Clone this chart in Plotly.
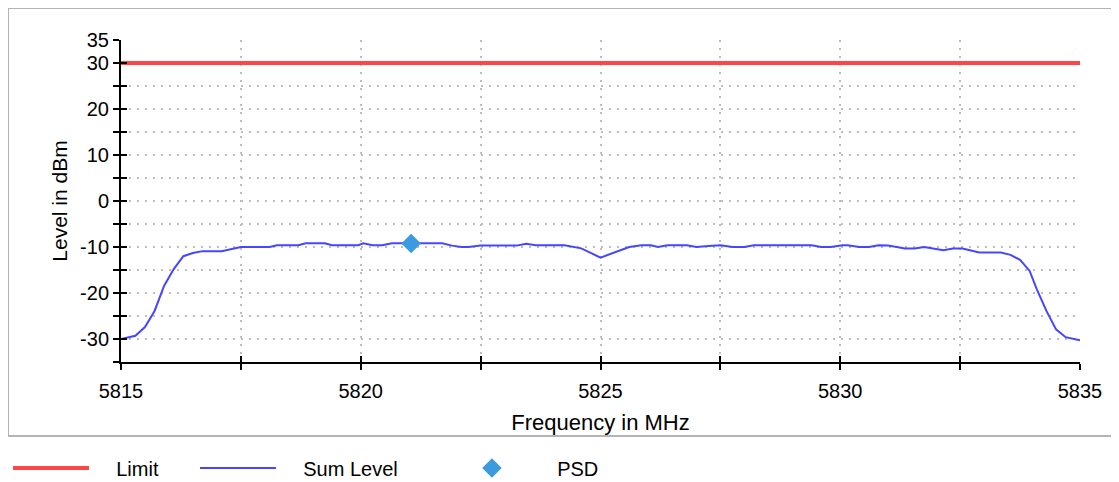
import plotly.graph_objects as go

# ---- data ----
freq_mhz = [5815.0, 5815.3, 5815.5, 5815.7, 5815.9, 5816.1, 5816.3, 5816.5, 5816.7, 5817.1,
            5817.5, 5818.1, 5818.25, 5818.7, 5818.85, 5819.25, 5819.4, 5819.95, 5820.05, 5820.25,
            5820.45, 5820.65, 5821.7, 5821.9, 5822.1, 5822.25, 5822.5, 5823.25, 5823.45, 5823.65,
            5824.25, 5824.6, 5825.0, 5825.6, 5825.85, 5826.05, 5826.2, 5826.4, 5826.8, 5827.0,
            5827.25, 5827.5, 5827.75, 5828.0, 5828.2, 5829.4, 5829.6, 5829.8, 5830.05, 5830.15,
            5830.4, 5830.6, 5830.8, 5831.0, 5831.35, 5831.55, 5831.75, 5831.95, 5832.15, 5832.35,
            5832.55, 5832.9, 5833.35, 5833.55, 5833.75, 5833.95, 5834.1, 5834.3, 5834.5, 5834.7,
            5835.0]
sum_level_dbm = [-30.0, -29.3, -27.4, -23.9, -18.4, -14.8, -12.0, -11.3, -10.9, -10.9,
                 -10.0, -10.0, -9.6, -9.6, -9.2, -9.2, -9.6, -9.6, -9.2, -9.6,
                 -9.6, -9.2, -9.2, -9.7, -10.0, -10.0, -9.7, -9.7, -9.3, -9.6,
                 -9.6, -10.3, -12.3, -10.0, -9.6, -9.6, -10.0, -9.6, -9.6, -10.0,
                 -9.8, -9.6, -10.0, -10.0, -9.6, -9.6, -10.0, -10.0, -9.6, -9.6,
                 -10.0, -10.0, -9.6, -9.7, -10.3, -10.3, -10.0, -10.4, -10.7, -10.35,
                 -10.35, -11.2, -11.2, -11.7, -12.8, -15.2, -19.2, -23.9, -27.9, -29.6,
                 -30.3]
limit_freq = [5815.0, 5835.0]
limit_level = [30.0, 30.0]
psd_freq = [5821.05]
psd_level = [-9.26]

x_tickvals = [5815, 5817.5, 5820, 5822.5, 5825, 5827.5, 5830, 5832.5, 5835]
x_ticktext = ["5815", "", "5820", "", "5825", "", "5830", "", "5835"]
y_tickvals = [-35, -30, -25, -20, -15, -10, -5, 0, 5, 10, 15, 20, 25, 30, 35]
y_ticktext = ["", "-30", "", "-20", "", "-10", "", "0", "", "10", "", "20", "", "30", "35"]

FONT = "Liberation Sans, Arial, sans-serif"
GRID = "#bdbdbd"
PAD = "\u00a0\u00a0\u00a0\u00a0"

fig = go.Figure()
fig.add_trace(go.Scatter(x=limit_freq, y=limit_level, mode="lines", name=PAD + "Limit",
                         line=dict(color="#ff4545", width=4), legend="legend"))
fig.add_trace(go.Scatter(x=freq_mhz, y=sum_level_dbm, mode="lines", name=PAD + "Sum Level",
                         line=dict(color="#4646ff", width=2), legend="legend2"))
fig.add_trace(go.Scatter(x=psd_freq, y=psd_level, mode="markers", name=PAD + "PSD",
                         marker=dict(symbol="diamond", size=15, color="#3c9be0"),
                         legend="legend3"))
# helper trace for overlay axes (inner half of the crossing ticks)
fig.add_trace(go.Scatter(x=[None], y=[None], xaxis="x2", yaxis="y2", showlegend=False,
                         hoverinfo="skip"))

axis_common = dict(showline=True, linecolor="black", linewidth=2, automargin=False,
                   ticks="outside", ticklen=6, tickwidth=2, tickcolor="black",
                   showgrid=True, gridcolor=GRID, gridwidth=1.5, griddash="2px,6px",
                   zeroline=False, tickfont=dict(family=FONT, size=20, color="black"))

legend_common = dict(orientation="h", xref="container", yref="container",
                     xanchor="left", y=0.0295, yanchor="middle", itemwidth=76,
                     font=dict(family=FONT, size=20, color="black"),
                     bgcolor="rgba(0,0,0,0)")

# page body has an 8px margin, so the figure is 1111x474 placed at (8, 8)
fig.update_layout(
    width=1111, height=474, autosize=False,
    margin=dict(l=113, r=39, t=32, b=120),
    paper_bgcolor="white", plot_bgcolor="white",
    font=dict(family=FONT, size=19, color="black"),
    xaxis=dict(range=[5815, 5835], tickmode="array", tickvals=x_tickvals, ticktext=x_ticktext,
               ticklabelstandoff=4,
               title=dict(text="Frequency in MHz", font=dict(family=FONT, size=22), standoff=14),
               **axis_common),
    yaxis=dict(range=[-35, 35], tickmode="array", tickvals=y_tickvals, ticktext=y_ticktext,
               ticklabelstandoff=0,
               title=dict(text="Level in dBm", font=dict(family=FONT, size=21), standoff=7),
               **axis_common),
    xaxis2=dict(range=[5815, 5835], overlaying="x", anchor="y", side="bottom",
                tickmode="array", tickvals=x_tickvals, showticklabels=False, automargin=False,
                ticks="inside", ticklen=6, tickwidth=2, tickcolor="black",
                showgrid=False, zeroline=False, showline=False),
    yaxis2=dict(range=[-35, 35], overlaying="y", anchor="x", side="left",
                tickmode="array", tickvals=y_tickvals, showticklabels=False, automargin=False,
                ticks="inside", ticklen=6, tickwidth=2, tickcolor="black",
                showgrid=False, zeroline=False, showline=False),
    legend=dict(x=-0.005, **legend_common),
    legend2=dict(x=0.1683, **legend_common),
    legend3=dict(x=0.3969, **legend_common),
    shapes=[dict(type="rect", xref="paper", yref="paper",
                 x0=-0.1178, x1=1.0386, y0=-0.2298, y1=1.0994,
                 line=dict(color="#b4b4b4", width=2), fillcolor="rgba(0,0,0,0)",
                 layer="below")],
    showlegend=True,
)

fig.write_html("out.html")
